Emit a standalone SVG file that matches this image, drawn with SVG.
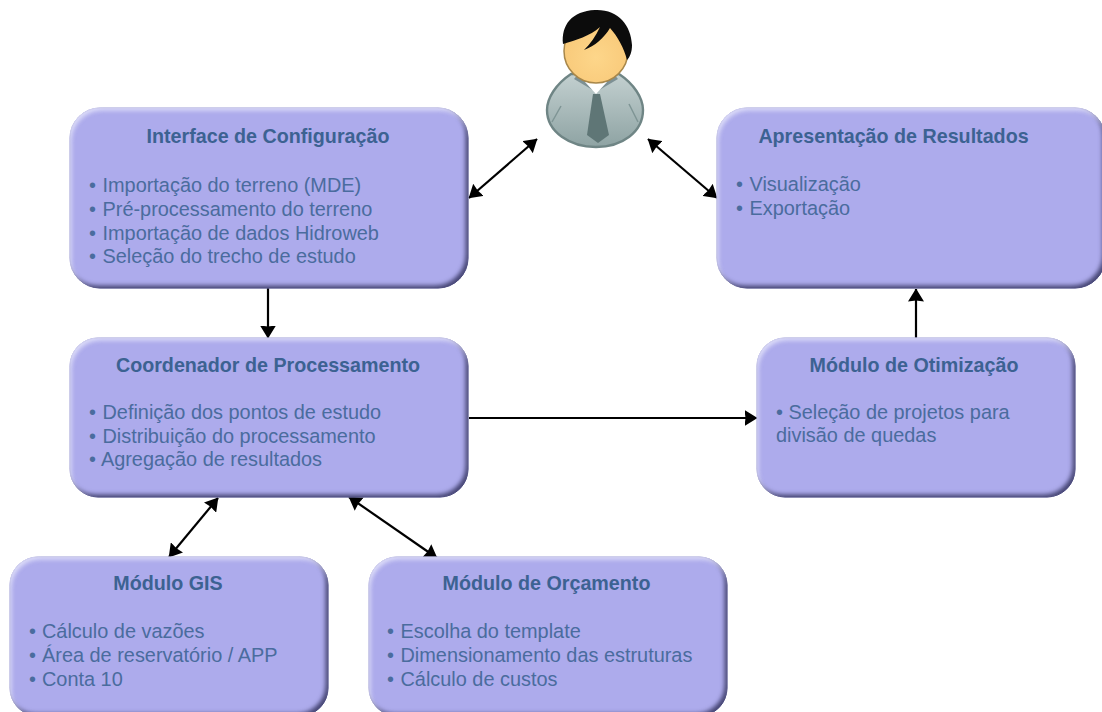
<svg xmlns="http://www.w3.org/2000/svg" width="1102" height="712" viewBox="0 0 1102 712">
<style>
.box{fill:#adabec;stroke:#8f8dcf;stroke-width:1;filter:url(#bevel)}
.t{font-family:"Liberation Sans",Arial,sans-serif;font-size:19.9px;fill:#4a6c9e}
.h{font-weight:bold;text-anchor:middle;font-size:19.7px;fill:#3c6292}
.c{fill:none;stroke:#000;stroke-width:2.2;marker-end:url(#tip);marker-start:url(#tipS)}
.o{marker-start:none}
</style>
<defs>
<marker id="tip" viewBox="0 0 13 16" refX="12.5" refY="8" markerWidth="13" markerHeight="16" markerUnits="userSpaceOnUse" orient="auto"><path d="M0 0L13 8L0 16L1 8z" fill="#000"/></marker>
<marker id="tipS" viewBox="0 0 13 16" refX="0.5" refY="8" markerWidth="13" markerHeight="16" markerUnits="userSpaceOnUse" orient="auto"><path d="M13 0L0 8L13 16L12 8z" fill="#000"/></marker>
<filter id="bevel" x="-3%" y="-3%" width="106%" height="106%" color-interpolation-filters="sRGB">
<feGaussianBlur in="SourceAlpha" stdDeviation="2" result="b"/>
<feOffset in="b" dx="-3" dy="-3" result="d1"/>
<feComposite in="SourceAlpha" in2="d1" operator="out" result="darkEdge"/>
<feFlood flood-color="#34345f" flood-opacity=".85"/>
<feComposite in2="darkEdge" operator="in" result="dark"/>
<feOffset in="b" dx="2" dy="3" result="l1"/>
<feComposite in="SourceAlpha" in2="l1" operator="out" result="lightEdge"/>
<feFlood flood-color="#e4e4fb" flood-opacity=".85"/>
<feComposite in2="lightEdge" operator="in" result="light"/>
<feMerge><feMergeNode in="SourceGraphic"/><feMergeNode in="dark"/><feMergeNode in="light"/></feMerge>
</filter>
<linearGradient id="body" x1="0" y1="0" x2="0" y2="1"><stop offset="0" stop-color="#c3d0d0"/><stop offset="1" stop-color="#8ea3a3"/></linearGradient>
<radialGradient id="face" cx=".5" cy=".6" r=".6"><stop offset="0" stop-color="#fdd68a"/><stop offset="1" stop-color="#f8c878"/></radialGradient>
</defs>

<g id="connectors">
<path class="c" d="M469 198L537 139"/>
<path class="c" d="M648 139L717 198"/>
<path class="c o" d="M268 288V338"/>
<path class="c o" d="M469 418H757"/>
<path class="c o" d="M916 338V289"/>
<path class="c" d="M218 498L169 557"/>
<path class="c" d="M349 497L437 558"/>
</g>

<g id="usuario">
<path d="M571 74C556 84 547 98 547 110C547 132 570 147 596 147C622 147 643 132 643 110C643 98 634 84 619 74Z" fill="url(#body)" stroke="#6f8585" stroke-width="2.4"/>
<path d="M574 79L596 92L618 79L612 72H580Z" fill="#7d9094"/>
<path d="M585 82L596 94L607 82Z" fill="#fff"/>
<path d="M593 94H600L609 135L598 143L587 135Z" fill="#5f7676"/>
<path d="M552 122L561 106M638 122L629 104" fill="none" stroke="#7f9595" stroke-width="1.5"/>
<circle cx="596" cy="51" r="32" fill="url(#face)" stroke="#a8874a" stroke-width="1.5"/>
<path d="M563 44C561 25 572 11 595 10C618 9 631 25 632 45C632 52 630 57 627 60C624 48 618 37 610 28C604 38 595 46 584 50C590 44 596 36 600 27C590 36 576 40 563 44Z" fill="#0c0c0c"/>
</g>

<g id="interface-configuracao">
<rect class="box" x="70" y="108" width="398" height="180" rx="30"/>
<text class="t h" x="268" y="143">Interface de Configuração</text>
<text class="t" x="89" y="192">• <tspan dx="1">Importação do terreno (MDE)</tspan></text>
<text class="t" x="89" y="216">• <tspan dx="1">Pré-processamento do terreno</tspan></text>
<text class="t" x="89" y="240">• <tspan dx="1">Importação de dados Hidroweb</tspan></text>
<text class="t" x="89" y="263">• <tspan dx="1">Seleção do trecho de estudo</tspan></text>
</g>

<g id="apresentacao-resultados">
<rect class="box" x="717" y="108" width="388" height="180" rx="30"/>
<text class="t h" x="893.5" y="143">Apresentação de Resultados</text>
<text class="t" x="736" y="191">• <tspan dx="1">Visualização</tspan></text>
<text class="t" x="736" y="215">• <tspan dx="1">Exportação</tspan></text>
</g>

<g id="coordenador-processamento">
<rect class="box" x="70" y="338" width="398" height="159" rx="28"/>
<text class="t h" x="268" y="372">Coordenador de Processamento</text>
<text class="t" x="89" y="419">• <tspan dx="1">Definição dos pontos de estudo</tspan></text>
<text class="t" x="89" y="443">• <tspan dx="1">Distribuição do processamento</tspan></text>
<text class="t" x="89" y="466">• <tspan dx="0.5">Agregação de resultados</tspan></text>
</g>

<g id="modulo-otimizacao">
<rect class="box" x="757" y="338" width="318" height="159" rx="28"/>
<text class="t h" x="914" y="372">Módulo de Otimização</text>
<text class="t" x="776" y="419">• Seleção de projetos para</text>
<text class="t" x="776" y="442">divisão de quedas</text>
</g>

<g id="modulo-gis">
<rect class="box" x="10" y="557" width="318" height="159" rx="28"/>
<text class="t h" x="168" y="590">Módulo GIS</text>
<text class="t" x="29" y="638">• <tspan dx="0.5">Cálculo de vazões</tspan></text>
<text class="t" x="29" y="662">• <tspan dx="0.5">Área de reservatório / APP</tspan></text>
<text class="t" x="29" y="686">• <tspan dx="0.5">Conta 10</tspan></text>
</g>

<g id="modulo-orcamento">
<rect class="box" x="369" y="557" width="358" height="159" rx="28"/>
<text class="t h" x="546.5" y="590">Módulo de Orçamento</text>
<text class="t" x="387" y="638">• <tspan dx="1">Escolha do template</tspan></text>
<text class="t" x="387" y="662">• <tspan dx="1">Dimensionamento das estruturas</tspan></text>
<text class="t" x="387" y="686">• <tspan dx="1">Cálculo de custos</tspan></text>
</g>
</svg>
